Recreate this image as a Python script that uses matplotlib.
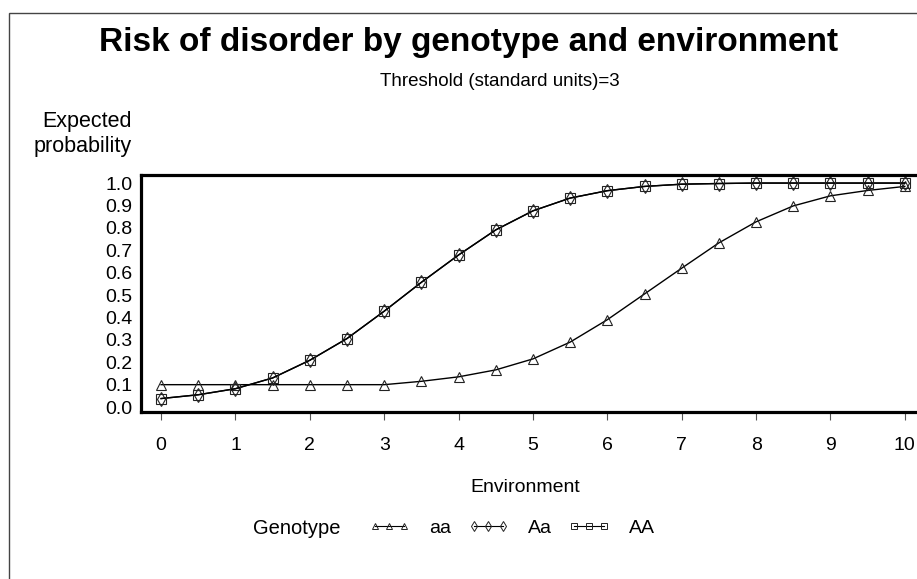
import matplotlib.pyplot as plt
from matplotlib.lines import Line2D
from matplotlib.patches import Rectangle

plt.rcParams['font.family'] = ['Liberation Sans', 'DejaVu Sans']

# environment values (x) and expected probability per genotype
env = [0, 0.5, 1, 1.5, 2, 2.5, 3, 3.5, 4, 4.5, 5, 5.5, 6, 6.5, 7, 7.5, 8, 8.5, 9, 9.5, 10]
risk_aa = [0.10, 0.10, 0.10, 0.10, 0.10, 0.10, 0.10, 0.115, 0.135, 0.166, 0.215,
           0.29, 0.39, 0.505, 0.62, 0.733, 0.827, 0.898, 0.943, 0.967, 0.985]
risk_Aa = [0.038, 0.055, 0.082, 0.13, 0.209, 0.306, 0.428, 0.557, 0.679, 0.791, 0.876,
           0.933, 0.966, 0.985, 0.995, 0.998, 1.0, 1.0, 1.0, 1.0, 1.0]
risk_AA = [0.038, 0.055, 0.082, 0.13, 0.209, 0.306, 0.428, 0.557, 0.679, 0.791, 0.876,
           0.933, 0.966, 0.985, 0.995, 0.998, 1.0, 1.0, 1.0, 1.0, 1.0]
genotypes = ['aa', 'Aa', 'AA']
markers = ['^', 'd', 's']
xticks = list(range(0, 11))
yticks = [i / 10 for i in range(0, 11)]

W, H = 917, 579
fig = plt.figure(figsize=(W / 100, H / 100), dpi=100)

# outer page border (only left and top fall inside the picture)
fig.patches.append(Rectangle((9 / W, -0.1), 1.2, 1.1 - 13 / H, transform=fig.transFigure,
                             fill=False, edgecolor='#444444', linewidth=1.0))

left, right = 141, 942
top, bottom = 175, 412
ax = fig.add_axes([left / W, 1 - bottom / H, (right - left) / W, (bottom - top) / H])

for vals, m in zip([risk_aa, risk_Aa, risk_AA], markers):
    ax.plot(env, vals, color='black', linewidth=1.0, marker=m, markersize=7,
            markerfacecolor='none', markeredgecolor='#222222', markeredgewidth=0.8)

ax.set_xlim(-0.27, 10.5)
ax.set_ylim(-0.022, 1.036)
ax.set_xticks(xticks)
ax.set_yticks(yticks)
ax.set_xticklabels([str(t) for t in xticks])
ax.set_yticklabels([f'{t:.1f}' for t in yticks])
ax.tick_params(axis='y', length=0, pad=6, labelsize=14)
ax.tick_params(axis='x', length=6, width=0.8, color='#555555', pad=12, labelsize=14)

for s in ['left', 'top', 'bottom']:
    ax.spines[s].set_linewidth(2.3)
ax.spines['right'].set_visible(False)

fig.text(469 / W, 1 - 43 / H, 'Risk of disorder by genotype and environment',
         ha='center', va='center', fontsize=24, fontweight='bold')
fig.text(500 / W, 1 - 82 / H, 'Threshold (standard units)=3',
         ha='center', va='center', fontsize=13.5)
fig.text(132 / W, 1 - 134 / H, 'Expected\nprobability', ha='right', va='center',
         fontsize=15.5, linespacing=1.3)
fig.text(525 / W, 1 - 487 / H, 'Environment', ha='center', va='center', fontsize=14)

# legend
fig.text(253 / W, 1 - 528 / H, 'Genotype', ha='left', va='center', fontsize=14.5)
handles = [Line2D([0], [0], color='black', linewidth=0.8, marker=m, markersize=5,
                  markerfacecolor='none', markeredgecolor='#222222', markeredgewidth=0.7)
           for m in markers]
fig.legend(handles, genotypes, ncol=3, loc='center left',
           bbox_to_anchor=(369 / W, 1 - 528 / H), frameon=False, numpoints=3,
           handlelength=2.1, handletextpad=1.0, columnspacing=0.85, fontsize=14,
           borderpad=0, borderaxespad=0)

fig.savefig('out.png', dpi=100)
